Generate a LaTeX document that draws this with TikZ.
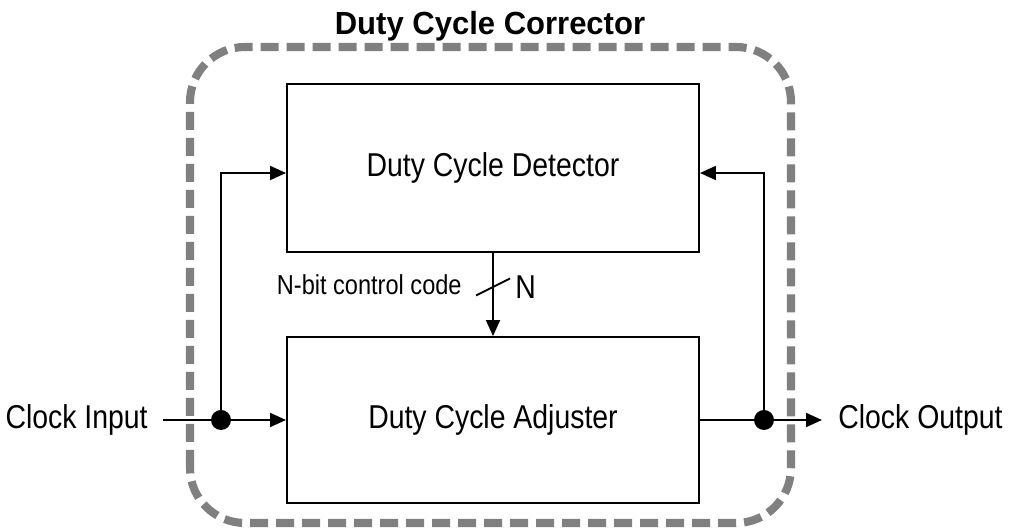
\documentclass[tikz,border=0pt]{standalone}
\usepackage{fontspec}
\setmainfont{Liberation Sans}
\newfontfamily\labelfont[FakeStretch=0.86]{Liberation Sans}
\newfontfamily\titlefont[FakeStretch=0.97]{Liberation Sans}
\usepackage{tikz}
\usetikzlibrary{arrows.meta}

\begin{document}
\begin{tikzpicture}[
    block/.style={draw, line width=1.1pt, minimum width=8.24cm, inner sep=0pt,
      font=\labelfont\fontsize{18.8}{22}\selectfont},
    wire/.style={line width=1.1pt, -{Triangle[length=0.32cm, width=0.28cm]}},
    dot/.style={circle, fill=black, inner sep=0pt, minimum size=0.4cm},
    border/.style={draw=gray, line width=4.6pt, dash pattern=on 0.36cm off 0.16cm,
      rounded corners=1.1cm}
  ]
    \useasboundingbox (0, 0) rectangle (20.22, 10.6);

    % the two blocks
    \node [block, minimum height=3.36cm] (detector) at (9.86, 7.24) {Duty Cycle Detector};
    \node [block, minimum height=3.32cm] (adjuster) at (9.86, 2.2) {Duty Cycle Adjuster};

    % clock in and out
    \node [anchor=east, inner sep=0pt, font=\labelfont\fontsize{18.8}{22}\selectfont]
      (clkin) at (2.96, 2.2) {Clock Input};
    \node [anchor=west, inner sep=0pt, font=\labelfont\fontsize{18.8}{22}\selectfont]
      (clkout) at (16.76, 2.2) {Clock Output};
    \coordinate (in) at (3.26, 2.2);
    \coordinate (out) at (16.44, 2.2);

    \node [dot] (ldot) at (4.42, 2.2) {};
    \node [dot] (rdot) at (15.28, 2.2) {};

    \draw [wire] (in) -- (adjuster.west);
    \draw [wire] (adjuster.east) -- (out);
    \draw [wire] (ldot.center) |- ([yshift=-0.1cm]detector.west);
    \draw [wire] (rdot.center) |- ([yshift=-0.1cm]detector.east);

    % control code bus
    \draw [wire] (detector) -- (adjuster);
    \coordinate (bus) at (9.86, 4.86);
    \draw [line width=1.1pt] ([shift={(-0.34, -0.17)}]bus) -- ([shift={(0.34, 0.17)}]bus);
    \node [anchor=base east, inner sep=0pt, font=\labelfont\fontsize{15.6}{18}\selectfont]
      (codelabel) at (9.24, 4.7) {N-bit control code};
    \node [anchor=base west, inner sep=0pt, font=\labelfont\fontsize{18.8}{22}\selectfont]
      (width) at (10.3, 4.62) {N};

    % the corrector
    \draw [border] (3.8, 0.14) rectangle (15.82, 9.66);
    \node [anchor=base, inner sep=0pt, font=\titlefont\bfseries\fontsize{18.2}{22}\selectfont]
      (title) at (9.8, 9.9) {Duty Cycle Corrector};

\end{tikzpicture}
\end{document}
